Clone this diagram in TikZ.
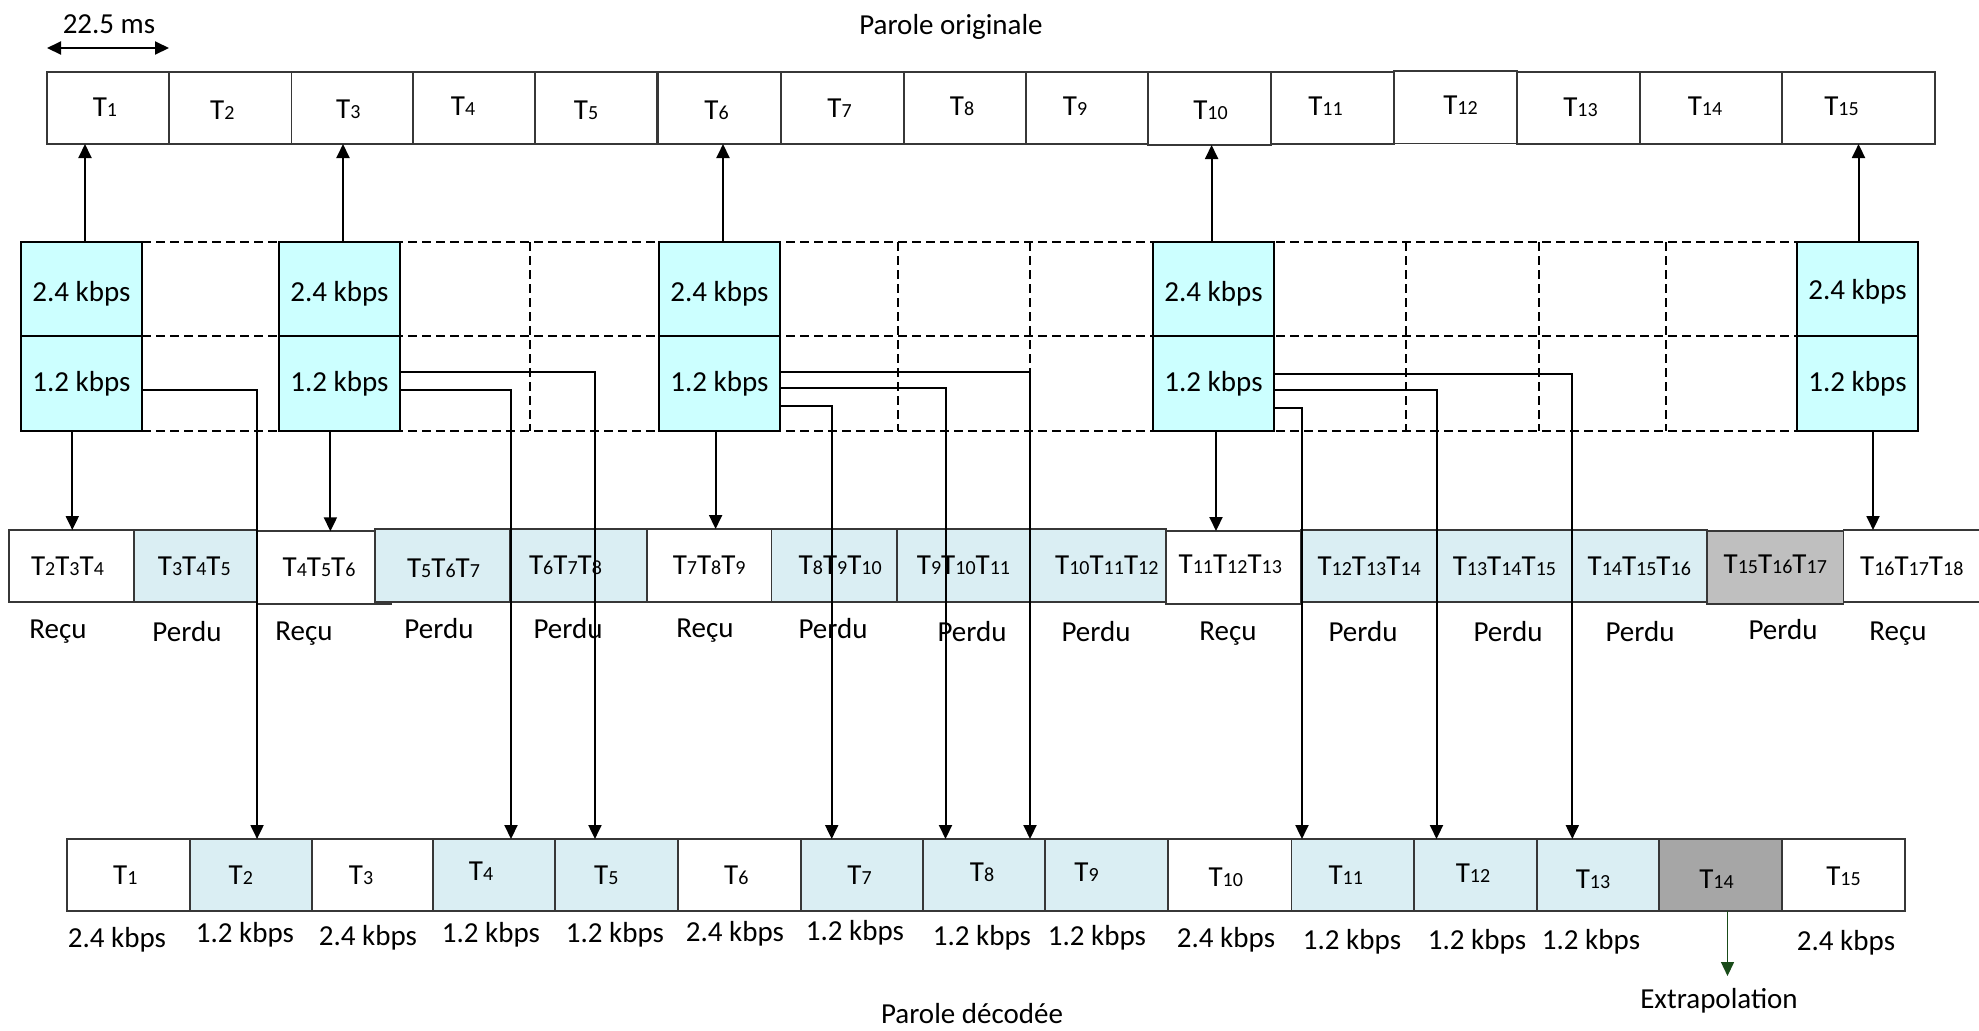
\documentclass[tikz,border=0pt]{standalone}
\usepackage{fontspec}
\setmainfont{Carlito}
\usetikzlibrary{arrows.meta,backgrounds}
\definecolor{cyanbox}{RGB}{204,255,255}
\definecolor{lblue}{RGB}{218,238,243}
\definecolor{grayA}{RGB}{191,191,191}
\definecolor{grayB}{RGB}{166,166,166}
\definecolor{dgreen}{RGB}{25,75,25}
\definecolor{edge}{RGB}{55,55,55}
\newcommand\Tn[1]{T{\fontsize{10}{11}\selectfont #1}}
\newcommand\sh[3]{\kern#1\raisebox{#2}[\height][\depth]{#3}\kern-#1\relax}
\newcommand\bx[7]{\node[#1, minimum width={(#5-#3)*0.5pt}, minimum height={(#6-#4)*0.5pt}] (#2) at ({(#3+#5)/2},{(#4+#6)/2}) {#7};}
\tikzset{
  every node/.style={font=\fontsize{14.5}{17}\selectfont, inner sep=0pt, outer sep=0pt},
  tcell/.style={draw=edge, line width=0.9pt, rectangle},
  mcell/.style={draw=black, line width=1.1pt, fill=cyanbox, rectangle},
  rwhite/.style={draw=edge, line width=0.9pt, fill=white, rectangle},
  rblue/.style={draw=edge, line width=0.9pt, fill=lblue, rectangle},
  rgrayA/.style={draw=edge, line width=0.9pt, fill=grayA, rectangle},
  rgrayB/.style={draw=edge, line width=0.9pt, fill=grayB, rectangle},
  arr/.style={line width=1pt, -{Triangle[length=7pt,width=6.5pt]}},
  darr/.style={line width=1pt, {Triangle[length=7pt,width=6.5pt]}-{Triangle[length=7pt,width=6.5pt]}},
  garr/.style={draw=dgreen, line width=0.7pt, -{Triangle[length=7pt,width=6.5pt]}},
  dline/.style={line width=0.9pt, dash pattern=on 4.5pt off 2.5pt},
  lbl/.style={anchor=center}
}
\begin{document}
\begin{tikzpicture}[x=0.5pt,y=-0.5pt]
\useasboundingbox (0,0) rectangle (1979,1030);

% ---- top row: Parole originale
\bx{tcell}{t1}{47}{72}{169}{144}{\sh{-1.5pt}{0.5pt}{\Tn{1}}}
\bx{tcell}{t2}{169}{72}{291.5}{144}{\sh{-4pt}{-1pt}{\Tn{2}}}
\bx{tcell}{t3}{291.5}{72}{413}{144}{\sh{-2pt}{-0.5pt}{\Tn{3}}}
\bx{tcell}{t4}{413}{72}{535}{144}{\sh{-5.5pt}{1pt}{\Tn{4}}}
\bx{tcell}{t5}{535}{72}{657}{144}{\sh{-5pt}{-1pt}{\Tn{5}}}
\bx{tcell}{t6}{658}{72}{781}{144}{\sh{-1.5pt}{-1pt}{\Tn{6}}}
\bx{tcell}{t7}{781}{72}{904}{144}{\sh{-1.5pt}{0pt}{\Tn{7}}}
\bx{tcell}{t8}{904}{72}{1026}{144}{\sh{-1.5pt}{1pt}{\Tn{8}}}
\bx{tcell}{t9}{1026}{72}{1148}{144}{\sh{-6pt}{1pt}{\Tn{9}}}
\bx{tcell}{t10}{1148}{72}{1271}{145}{\sh{0.5pt}{-1pt}{\Tn{10}}}
\bx{tcell}{t11}{1271}{72}{1394}{144}{\sh{-3.5pt}{1pt}{\Tn{11}}}
\bx{tcell}{t12}{1394}{71}{1517}{143.5}{\sh{2.5pt}{1pt}{\Tn{12}}}
\bx{tcell}{t13}{1517}{72}{1640}{144}{\sh{1pt}{0.5pt}{\Tn{13}}}
\bx{tcell}{t14}{1640}{72}{1782}{144}{\sh{-3pt}{1pt}{\Tn{14}}}
\bx{tcell}{t15}{1782}{72}{1935}{144}{\sh{-8.5pt}{1pt}{\Tn{15}}}

% ---- middle: packets 2.4 / 1.2 kbps
\bx{mcell}{b1u}{21}{242}{142}{336}{\sh{0pt}{-2.5pt}{2.4 kbps}}
\bx{mcell}{b1l}{21}{336}{142}{431}{1.2 kbps}
\bx{mcell}{b2u}{279}{242}{400}{336}{\sh{0pt}{-2.5pt}{2.4 kbps}}
\bx{mcell}{b2l}{279}{336}{400}{431}{1.2 kbps}
\bx{mcell}{b3u}{659}{242}{780}{336}{\sh{0pt}{-2.5pt}{2.4 kbps}}
\bx{mcell}{b3l}{659}{336}{780}{431}{1.2 kbps}
\bx{mcell}{b4u}{1153}{242}{1274}{336}{\sh{0pt}{-2.5pt}{2.4 kbps}}
\bx{mcell}{b4l}{1153}{336}{1274}{431}{1.2 kbps}
\bx{mcell}{b5u}{1797}{242}{1918}{336}{\sh{0pt}{-1.5pt}{2.4 kbps}}
\bx{mcell}{b5l}{1797}{336}{1918}{431}{1.2 kbps}

% ---- received row
\bx{rwhite}{m1}{9}{530}{134}{602}{\sh{-2pt}{0pt}{\Tn{2}\Tn{3}\Tn{4}}}
\bx{rblue}{m2}{134}{530}{256.7}{602}{\sh{-0.5pt}{0pt}{\Tn{3}\Tn{4}\Tn{5}}}
\bx{rwhite}{m3}{256.7}{531.3}{390.6}{604}{\sh{-2.3pt}{0pt}{\Tn{4}\Tn{5}\Tn{6}}}
\bx{rblue}{m4}{375}{529.3}{510}{601.7}{\sh{0.5pt}{-1.5pt}{\Tn{5}\Tn{6}\Tn{7}}}
\bx{rblue}{m5}{510}{529.3}{647}{601.7}{\sh{-6.5pt}{0pt}{\Tn{6}\Tn{7}\Tn{8}}}
\bx{rwhite}{m6}{647}{529}{771.4}{602}{\Tn{7}\Tn{8}\Tn{9}}
\bx{rblue}{m7}{771.4}{529}{897}{602}{\sh{3pt}{0pt}{\Tn{8}\Tn{9}\Tn{10}}}
\bx{rblue}{m8}{897}{529}{1030}{602}{\Tn{9}\Tn{10}\Tn{11}}
\bx{rblue}{m9}{1030}{529}{1165.6}{602}{\sh{4.5pt}{0pt}{\Tn{10}\Tn{11}\Tn{12}}}
\bx{rwhite}{m10}{1165.6}{531}{1301}{603.7}{\sh{-1.5pt}{1.5pt}{\Tn{11}\Tn{12}\Tn{13}}}
\bx{rblue}{m11}{1301}{530}{1437.3}{602.3}{\Tn{12}\Tn{13}\Tn{14}}
\bx{rblue}{m12}{1437.3}{530}{1571.5}{602.3}{\Tn{13}\Tn{14}\Tn{15}}
\bx{rblue}{m13}{1571.5}{530}{1707}{602.3}{\Tn{14}\Tn{15}\Tn{16}}
\bx{rgrayA}{m14}{1707}{531}{1843.5}{603.7}{\sh{0pt}{1.5pt}{\Tn{15}\Tn{16}\Tn{17}}}
\bx{rwhite}{m15}{1843.5}{530}{1992}{602}{\sh{-3pt}{0pt}{\Tn{16}\Tn{17}\Tn{18}}}

% ---- decoded row
\bx{rwhite}{d1}{67}{839}{189.7}{911}{\sh{-1.5pt}{0pt}{\Tn{1}}}
\bx{rblue}{d2}{189.7}{839}{312}{911}{\sh{-5pt}{0pt}{\Tn{2}}}
\bx{rwhite}{d3}{312}{839}{433}{911}{\sh{-5.75pt}{0pt}{\Tn{3}}}
\bx{rblue}{d4}{433}{839}{555}{911}{\sh{-6.5pt}{2pt}{\Tn{4}}}
\bx{rblue}{d5}{555}{839}{677.7}{911}{\sh{-5pt}{0pt}{\Tn{5}}}
\bx{rwhite}{d6}{677.7}{839}{801}{911}{\sh{-1.5pt}{0pt}{\Tn{6}}}
\bx{rblue}{d7}{801}{839}{923}{911}{\sh{-1.25pt}{0pt}{\Tn{7}}}
\bx{rblue}{d8}{923}{839}{1045}{911}{\sh{-1pt}{1.5pt}{\Tn{8}}}
\bx{rblue}{d9}{1045}{839}{1168}{911}{\sh{-10pt}{1.5pt}{\Tn{9}}}
\bx{rwhite}{d10}{1168}{839}{1291.5}{911}{\sh{-2pt}{-1pt}{\Tn{10}}}
\bx{rblue}{d11}{1291.5}{839}{1414}{911}{\sh{-3.5pt}{0pt}{\Tn{11}}}
\bx{rblue}{d12}{1414}{839}{1537}{911}{\sh{-1.25pt}{1pt}{\Tn{12}}}
\bx{rblue}{d13}{1537}{839}{1659}{911}{\sh{-2.5pt}{-2pt}{\Tn{13}}}
\bx{rgrayB}{d14}{1659}{839}{1782}{911}{\sh{-2pt}{-2pt}{\Tn{14}}}
\bx{rwhite}{d15}{1782}{839}{1905}{911}{\sh{0pt}{-0.5pt}{\Tn{15}}}

% ---- background: white page and dashed grid
\begin{pgfonlayer}{background}
  \fill[white] (0,0) rectangle (1979,1030);
  \draw[dline] (b1u.north east) -- (b5u.north west);
  \draw[dline] (b1u.south east) -- (b5u.south west);
  \draw[dline] (b1l.south east) -- (b5l.south west);
  \foreach \xx in {530,898,1030,1406,1539,1666}
    \draw[dline] (\xx,242) -- (\xx,431);
\end{pgfonlayer}

% ---- texts
\node[lbl] (ms) at (109,24) {22.5 ms};
\coordinate (msy) at (0,48);
\draw[darr] (t1.west |- msy) -- (t1.east |- msy);
\node[lbl] (po) at (951,27) {Parole originale};
\node[lbl] (pd) at (972,1014) {Parole décodée};
\node[lbl] (ex) at (1719,1001) {Extrapolation};

\node[lbl] (r1) at (58,632) {Reçu};
\node[lbl] (r2) at (187,632) {Perdu};
\node[lbl] (r3) at (304,634) {Reçu};
\node[lbl] (r4) at (439,629) {Perdu};
\node[lbl] (r5) at (568,629) {Perdu};
\node[lbl] (r6) at (705,631) {Reçu};
\node[lbl] (r7) at (833,629) {Perdu};
\node[lbl] (r8) at (972,632) {Perdu};
\node[lbl] (r9) at (1096,632) {Perdu};
\node[lbl] (r10) at (1228,634) {Reçu};
\node[lbl] (r11) at (1363,632) {Perdu};
\node[lbl] (r12) at (1508,632) {Perdu};
\node[lbl] (r13) at (1640,632) {Perdu};
\node[lbl] (r14) at (1783,630) {Perdu};
\node[lbl] (r15) at (1898,634) {Reçu};

\node[lbl] (k1) at (117,940) {2.4 kbps};
\node[lbl] (k2) at (245,935) {1.2 kbps};
\node[lbl] (k3) at (368,938) {2.4 kbps};
\node[lbl] (k4) at (491,935) {1.2 kbps};
\node[lbl] (k5) at (615,935) {1.2 kbps};
\node[lbl] (k6) at (735,934) {2.4 kbps};
\node[lbl] (k7) at (855,933) {1.2 kbps};
\node[lbl] (k8) at (982,938) {1.2 kbps};
\node[lbl] (k9) at (1097,938) {1.2 kbps};
\node[lbl] (k10) at (1226,940) {2.4 kbps};
\node[lbl] (k11) at (1352,942) {1.2 kbps};
\node[lbl] (k12) at (1477,942) {1.2 kbps};
\node[lbl] (k13) at (1591,942) {1.2 kbps};
\node[lbl] (k14) at (1846,943) {2.4 kbps};

% ---- arrows up to original speech
\draw[arr] ([xshift=1.75pt]b1u.north) -- ([xshift=1.75pt]b1u.north |- t1.south);
\draw[arr] ([xshift=1.75pt]b2u.north) -- ([xshift=1.75pt]b2u.north |- t3.south);
\draw[arr] ([xshift=1.75pt]b3u.north) -- ([xshift=1.75pt]b3u.north |- t6.south);
\draw[arr] ([xshift=-0.95pt]b4u.north) -- ([xshift=-0.95pt]b4u.north |- t10.south);
\draw[arr] ([xshift=0.5pt]b5u.north) -- ([xshift=0.5pt]b5u.north |- t15.south);

% ---- arrows down to received row
\draw[arr] ([xshift=-4.6pt]b1l.south) -- ([xshift=-4.6pt]b1l.south |- m1.north);
\draw[arr] ([xshift=-4.55pt]b2l.south) -- ([xshift=-4.55pt]b2l.south |- m3.north);
\draw[arr] ([xshift=-1.95pt]b3l.south) -- ([xshift=-1.95pt]b3l.south |- m6.north);
\draw[arr] ([xshift=1.25pt]b4l.south) -- ([xshift=1.25pt]b4l.south |- m10.north);
\draw[arr] ([xshift=7.75pt]b5l.south) -- ([xshift=7.75pt]b5l.south |- m15.north);

% ---- 1.2 kbps redundancy to decoded speech
\draw[arr] ([yshift=-3.25pt]b1l.east) -| ([xshift=3.1pt]d2.north);
\draw[arr] ([yshift=5.9pt]b2l.east) -| ([xshift=-10.7pt]d5.north);
\draw[arr] ([yshift=-3.25pt]b2l.east) -| ([xshift=8.5pt]d4.north);
\draw[arr] ([yshift=5.9pt]b3l.east) -| ([xshift=23pt]d8.north);
\draw[arr] ([yshift=-2.4pt]b3l.east) -| ([xshift=-19.25pt]d8.north);
\draw[arr] ([yshift=-11.1pt]b3l.east) -| ([xshift=-15.15pt]d7.north);
\draw[arr] ([yshift=4.75pt]b4l.east) -| ([xshift=-12.85pt]d13.north);
\draw[arr] ([yshift=-3.25pt]b4l.east) -| ([xshift=-19.5pt]d12.north);
\draw[arr] ([yshift=-12.1pt]b4l.east) -| ([xshift=-25.4pt]d11.north);

% ---- extrapolation
\coordinate (extip) at (1727.5,976);
\draw[garr] ([xshift=3.5pt]d14.south) -- (extip);
\end{tikzpicture}
\end{document}
